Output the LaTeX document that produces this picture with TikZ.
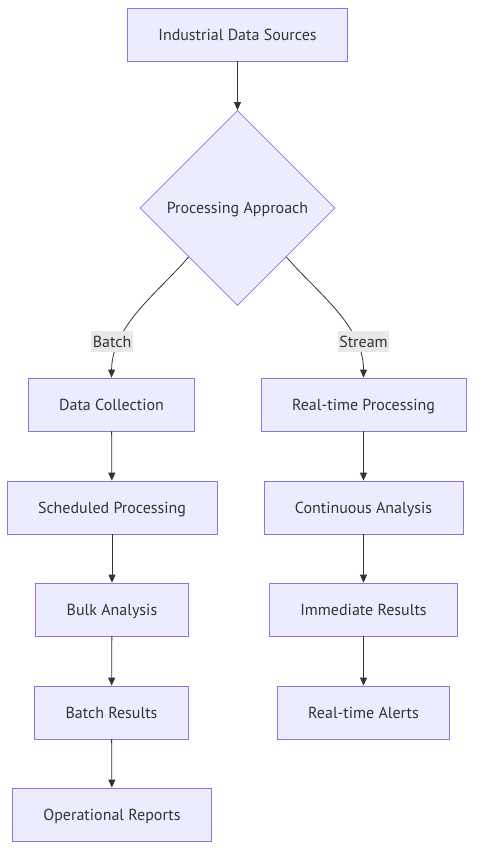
\documentclass[tikz,border=0pt]{standalone}
\usepackage{fontspec}
\setmainfont{PT Sans}
\usetikzlibrary{shapes.geometric,arrows.meta}
\definecolor{boxfill}{HTML}{ECECFF}
\definecolor{boxline}{HTML}{9370DB}
\definecolor{inkgray}{HTML}{333333}
\definecolor{tagfill}{HTML}{E8E8E8}
\begin{document}
\begin{tikzpicture}[x=1pt,y=1pt,>={Triangle[length=8pt,width=7pt]},
  font=\fontsize{16}{19}\selectfont,text=inkgray,
  proc/.style={rectangle,draw=boxline,fill=boxfill,line width=0.8pt,minimum height=53pt,inner xsep=31pt,text height=13.5pt,text depth=2pt},
  decide/.style={diamond,draw=boxline,fill=boxfill,line width=0.8pt,minimum width=195pt,minimum height=195pt,inner sep=0pt,text height=13.5pt,text depth=2pt},
  flow/.style={->,draw=inkgray,line width=0.8pt},
  tag/.style={fill=tagfill,inner sep=1.5pt,minimum height=21pt}]
\useasboundingbox (0,0) rectangle (482,-863);
\node[proc] (src) at (237.5,-34.5) {Industrial Data Sources};
\node[decide] (dec) at (237.5,-208) {Processing Approach};
% batch branch
\node[proc] (coll) at (111.5,-404.5) {Data Collection};
\node[proc] (sched) at (112,-507.5) {Scheduled Processing};
\node[proc] (bulk) at (112,-609.5) {Bulk Analysis};
\node[proc] (bres) at (111.5,-712.5) {Batch Results};
\node[proc] (rep) at (112,-814.5) {Operational Reports};
% stream branch
\node[proc] (rtp) at (363.5,-404.5) {Real-time Processing};
\node[proc] (cont) at (363.5,-507.5) {Continuous Analysis};
\node[proc] (imm) at (363.5,-609.5) {Immediate Results};
\node[proc] (alert) at (363.5,-712.5) {Real-time Alerts};
\draw[flow] (src) -- (dec);
\draw[flow] (dec.south west) .. controls (159,-292) and (112,-325) .. (coll.north);
\draw[flow] (dec.south east) .. controls (316,-292) and (363.5,-325) .. (rtp.north);
\node[tag] (tbatch) at (112,-341.5) {Batch};
\node[tag] (tstream) at (363.5,-341.5) {Stream};
\draw[flow] (coll) -- (sched);
\draw[flow] (sched) -- (bulk);
\draw[flow] (bulk) -- (bres);
\draw[flow] (bres) -- (rep);
\draw[flow] (rtp) -- (cont);
\draw[flow] (cont) -- (imm);
\draw[flow] (imm) -- (alert);
\end{tikzpicture}
\end{document}
